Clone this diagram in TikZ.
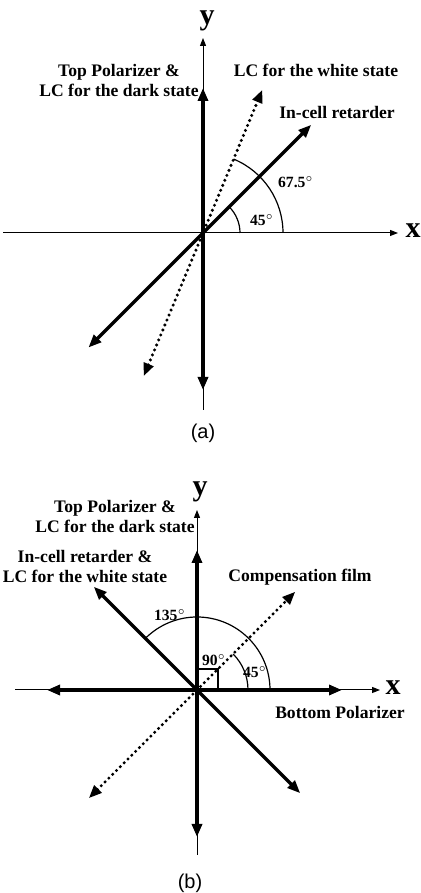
\documentclass[tikz,border=0pt]{standalone}
\usepackage{fontspec}
\setmainfont{Liberation Serif}
\newfontfamily\capfont{Liberation Sans}
\usetikzlibrary{arrows.meta,positioning}
\newcommand{\dg}{$^{\scriptscriptstyle\circ}$}
\tikzset{
  tipbig/.tip={Triangle[length=6.5pt,width=5pt]},
  tipsmall/.tip={Triangle[length=4pt,width=3pt]},
  % achsen und richtungen
  axis/.style={draw=black,line width=0.5pt,-tipsmall},
  pol/.style={draw=black,line width=1.6pt,tipbig-tipbig},
  lcdot/.style={draw=black,line width=1.7pt,line cap=round,
                dash pattern=on 0pt off 2.7pt,tipbig-tipbig},
  ang/.style={draw=black,line width=0.6pt},
  % texte
  lbl/.style={font=\fontsize{8.8}{10}\selectfont\bfseries,align=center,inner sep=0pt},
  deg/.style={font=\fontsize{7.8}{8}\selectfont\bfseries,inner sep=0pt},
  axlbl/.style={font=\fontsize{15}{15}\selectfont\bfseries,inner sep=0pt},
  subcap/.style={font=\capfont\fontsize{10}{10}\selectfont,inner sep=0pt},
}
\begin{document}
\begin{tikzpicture}[x=0.5pt,y=0.5pt]
  \useasboundingbox (0,0) rectangle (421,893);
  % (a)
  \begin{scope}[shift={(203,660)}]
    \coordinate (aO) at (0,0);
    \coordinate (axL) at (-200,0);  \coordinate (axR) at (195,0);
    \coordinate (ayB) at (0,-177);  \coordinate (ayT) at (0,195);
    \coordinate (apB) at (0,-157);  \coordinate (apT) at (0,145);
    \coordinate (arB) at (225:162); \coordinate (arT) at (45:153);
    \coordinate (awB) at (247.5:155); \coordinate (awT) at (67.5:155);
    \draw[axis] (axL) -- (axR);  \draw[axis] (ayB) -- (ayT);
    \draw[pol] (apB) -- (apT);
    \draw[pol] (arB) -- (arT);
    \draw[lcdot] (awB) -- (awT);
    \draw[ang] (37,0) arc[start angle=0,end angle=45,radius=37];
    \draw[ang] (80,0) arc[start angle=0,end angle=67.5,radius=80];
    \node[axlbl] (ax) at (210,2) {x};
    \node[axlbl] (ay) at (4,212) {y};
    \node[deg] (a45) at (59,13) {45\dg};
    \node[deg] (a675) at (93,51) {67.5\dg};
    \node[lbl] (atop) at (-84,153) {Top Polarizer \&\\LC for the dark state};
    \node[lbl] (awhite) at (113,163) {LC for the white state};
    \node[lbl] (aret) at (134,121) {In-cell retarder};
    \node[subcap] (acap) at (0,-200) {(a)};
  \end{scope}
  % (b)
  \begin{scope}[shift={(197,203)}]
    \coordinate (bO) at (0,0);
    \coordinate (bxL) at (-182,0);  \coordinate (bxR) at (183,0);
    \coordinate (byB) at (0,-165);  \coordinate (byT) at (0,180);
    \coordinate (bhL) at (-150,0);  \coordinate (bhR) at (145,0);
    \coordinate (bpB) at (0,-147);  \coordinate (bpT) at (0,140);
    \coordinate (brB) at (315:146); \coordinate (brT) at (135:146);
    \coordinate (bcB) at (225:153); \coordinate (bcT) at (45:139);
    \draw[axis] (bxL) -- (bxR);  \draw[axis] (byB) -- (byT);
    \draw[pol] (bhL) -- (bhR);
    \draw[pol] (bpB) -- (bpT);
    \draw[pol] (brB) -- (brT);
    \draw[lcdot] (bcB) -- (bcT);
    \draw[ang] (73,0) arc[start angle=0,end angle=135,radius=73];
    \draw[ang] (51,0) arc[start angle=0,end angle=45,radius=51];
    \draw[ang] (0,21) -| (21,0);
    \node[axlbl] (bx) at (196,2) {x};
    \node[axlbl] (by) at (3,198) {y};
    \node[deg] (b90) at (17,30) {90\dg};
    \node[deg] (b45) at (58,18) {45\dg};
    \node[deg] (b135) at (-27,75) {135\dg};
    \node[lbl] (btop) at (-82,174) {Top Polarizer \&\\LC for the dark state};
    \node[lbl] (bret) at (-112,124) {In-cell retarder \&\\LC for the white state};
    \node[lbl] (bcomp) at (103,113) {Compensation film};
    \node[lbl] (bbot) at (143,-22) {Bottom Polarizer};
    \node[subcap] (bcap) at (-7,-193) {(b)};
  \end{scope}
\end{tikzpicture}
\end{document}
